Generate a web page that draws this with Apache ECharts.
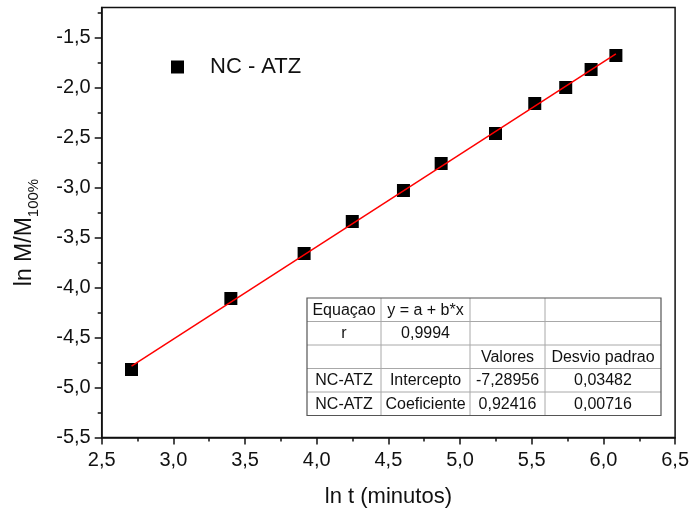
<!DOCTYPE html>
<html>
<head>
<meta charset="utf-8">
<script src="https://cdn.jsdelivr.net/npm/echarts@6/dist/echarts.min.js"></script>
<style>html,body{margin:0;padding:0;background:#fff;}#c{width:692px;height:516px;}</style>
</head>
<body>
<div id="c"></div>
<script>
// ---- data ----
const lnT = [2.708, 3.401, 3.912, 4.248, 4.605, 4.868, 5.247, 5.521, 5.737, 5.914, 6.087];
const lnM = [-4.82, -4.11, -3.66, -3.34, -3.03, -2.76, -2.46, -2.16, -2.00, -1.82, -1.68];
const fitX = [2.708, 6.087];
const fitY = [-4.787, -1.664];
const seriesName = 'NC - ATZ';
const xTickValues = [2.5, 3.0, 3.5, 4.0, 4.5, 5.0, 5.5, 6.0, 6.5];
const yTickValues = [-5.5, -5.0, -4.5, -4.0, -3.5, -3.0, -2.5, -2.0, -1.5];
const yMinorValues = [-5.25, -4.75, -4.25, -3.75, -3.25, -2.75, -2.25, -1.75, -1.25];
const tableRows = [
  ['Equaçao', 'y = a + b*x', '', ''],
  ['r', '0,9994', '', ''],
  ['', '', 'Valores', 'Desvio padrao'],
  ['NC-ATZ', 'Intercepto', '-7,28956', '0,03482'],
  ['NC-ATZ', 'Coeficiente', '0,92416', '0,00716']
];

const FONT = 'Liberation Sans, Arial, sans-serif';
const fmt = v => v.toFixed(1).replace('.', ',');

const chart = echarts.init(document.getElementById('c'), null, {renderer: 'canvas'});

// table graphic
const colX = [307, 381, 470, 545, 661];
const rowY = [298, 321.5, 345, 368.5, 392, 415.5];
const tableEls = [];
tableEls.push({type: 'rect', shape: {x: colX[0], y: rowY[0], width: colX[4] - colX[0], height: rowY[5] - rowY[0]},
  style: {fill: '#fff', stroke: 'none'}, z: 50});
for (let i = 1; i < 5; i++) {
  tableEls.push({type: 'line', shape: {x1: colX[0], y1: rowY[i], x2: colX[4], y2: rowY[i]}, style: {stroke: '#a8a8a8', lineWidth: 1}, z: 51});
}
for (let j = 1; j < 4; j++) {
  tableEls.push({type: 'line', shape: {x1: colX[j], y1: rowY[0], x2: colX[j], y2: rowY[5]}, style: {stroke: '#a8a8a8', lineWidth: 1}, z: 51});
}
tableEls.push({type: 'rect', shape: {x: colX[0], y: rowY[0], width: colX[4] - colX[0], height: rowY[5] - rowY[0]},
  style: {fill: 'none', stroke: '#555', lineWidth: 1.2}, z: 52});
tableRows.forEach((row, r) => {
  row.forEach((txt, c) => {
    if (!txt) return;
    tableEls.push({type: 'text', z: 53,
      style: {text: txt, x: (colX[c] + colX[c + 1]) / 2, y: (rowY[r] + rowY[r + 1]) / 2 + 0.5,
        align: 'center', verticalAlign: 'middle', fontSize: 16, fontFamily: FONT, fill: '#111'}});
  });
});

const option = {
  backgroundColor: '#fff',
  animation: false,
  grid: {left: 101.7, right: 15, top: 7.5, bottom: 78.5, show: true, borderColor: '#111', borderWidth: 1.5, backgroundColor: 'transparent'},
  legend: {
    left: 166, top: 51, itemWidth: 13, itemHeight: 13, icon: 'rect',
    data: [seriesName],
    itemStyle: {opacity: 1, color: '#000'},
    textStyle: {fontSize: 22, fontFamily: FONT, color: '#111', padding: [0, 0, 0, 21]}
  },
  xAxis: {
    type: 'value', min: 2.5, max: 6.5, interval: 0.5,
    name: 'ln t (minutos)', nameLocation: 'middle', nameGap: 48,
    nameTextStyle: {fontSize: 22, fontFamily: FONT, color: '#111'},
    axisLine: {show: true, lineStyle: {color: '#111', width: 1.5}},
    axisTick: {show: true, inside: false, length: 7, lineStyle: {color: '#111', width: 1.5}},
    minorTick: {show: true, splitNumber: 2, length: 4, lineStyle: {color: '#111', width: 1.5}},
    splitLine: {show: false},
    axisLabel: {fontSize: 20, fontFamily: FONT, color: '#111', margin: 13, formatter: fmt}
  },
  yAxis: [{
    type: 'value', min: -5.5, max: -1.2,
    name: '{a|ln M/M}{b|100%}', nameLocation: 'middle', nameGap: 60, nameRotate: 90,
    nameTextStyle: {fontFamily: FONT, color: '#111', padding: [0, 20, 0, 0],
      rich: {
        a: {fontSize: 23, fontFamily: FONT, color: '#111', height: 23, verticalAlign: 'top'},
        b: {fontSize: 15, fontFamily: FONT, color: '#111', verticalAlign: 'top', padding: [14, 0, 0, 0]}
      }},
    axisLine: {show: true, lineStyle: {color: '#111', width: 1.5}},
    axisTick: {show: true, inside: false, length: 7, lineStyle: {color: '#111', width: 1.5}, customValues: yTickValues},
    splitLine: {show: false},
    axisLabel: {fontSize: 20, fontFamily: FONT, color: '#111', margin: 11, formatter: fmt, customValues: yTickValues}
  }, {
    type: 'value', min: -5.5, max: -1.2, position: 'left', offset: 0,
    axisLine: {show: false},
    axisTick: {show: true, inside: false, length: 4, lineStyle: {color: '#111', width: 1.5}, customValues: yMinorValues},
    axisLabel: {show: false},
    splitLine: {show: false}
  }],
  series: [{
    name: seriesName, type: 'scatter', symbol: 'rect', symbolSize: 13,
    itemStyle: {color: '#000', opacity: 1}, z: 3,
    data: lnT.map((x, i) => [x, lnM[i]])
  }, {
    name: 'fit', type: 'line', showSymbol: false, symbol: 'none',
    lineStyle: {color: '#ff0000', width: 1.5}, z: 4,
    data: fitX.map((x, i) => [x, fitY[i]])
  }],
  graphic: tableEls
};
chart.setOption(option);
</script>
</body>
</html>
